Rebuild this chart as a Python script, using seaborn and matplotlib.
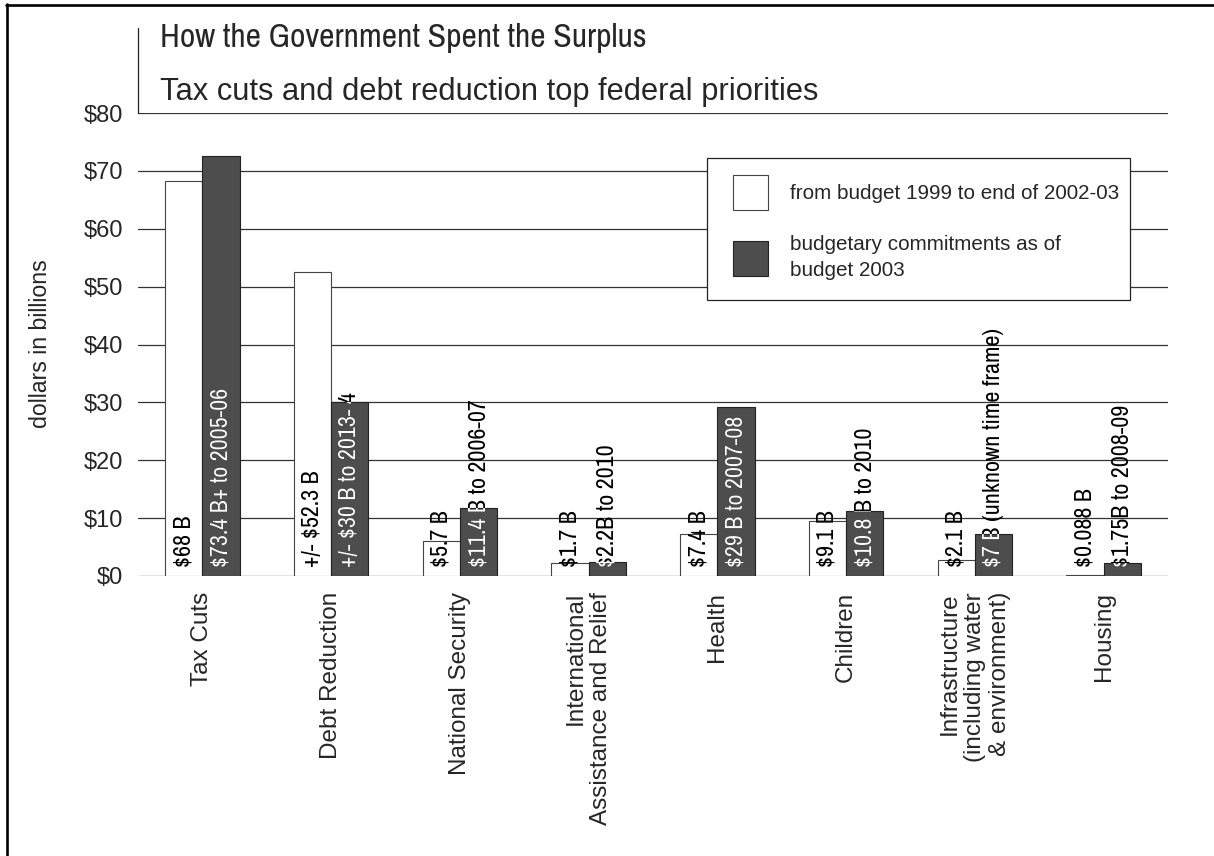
import os
import matplotlib
matplotlib.use("Agg")
import matplotlib.pyplot as plt
from matplotlib import font_manager
from matplotlib.font_manager import FontProperties
from matplotlib.lines import Line2D
from matplotlib.patches import Rectangle
import seaborn as sns
import pandas as pd

# ---------------- data ----------------
categories = ["Tax Cuts", "Debt Reduction", "National Security",
              "International\nAssistance and Relief", "Health", "Children",
              "Infrastructure\n(including water\n& environment)", "Housing"]
series_names = ["from budget 1999 to end of 2002-03",
                "budgetary commitments as of\nbudget 2003"]
spent_1999_2003 = [68.2, 52.5, 6.1, 2.2, 7.25, 9.5, 2.76, 0.088]
commit_2003 = [72.5, 30.0, 11.7, 2.5, 29.2, 11.2, 7.3, 2.2]
labels_1999_2003 = ["$68 B", "+/- $52.3 B", "$5.7 B", "$1.7 B",
                    "$7.4 B", "$9.1 B", "$2.1 B", "$0.088 B"]
labels_2003 = ["$73.4 B+ to 2005-06", "+/- $30 B to 2013- 4",
               "$11.4 B to 2006-07", "$2.2B to 2010",
               "$29 B to 2007-08", "$10.8 B to 2010",
               "$7 B (unknown time frame)", "$1.75B to 2008-09"]
yticks = [0, 10, 20, 30, 40, 50, 60, 70, 80]
ytick_labels = ["$0", "$10", "$20", "$30", "$40", "$50", "$60", "$70", "$80"]
title = "How the Government Spent the Surplus"
subtitle = "Tax cuts and debt reduction top federal priorities"
ylabel = "dollars in billions"

df = pd.DataFrame({
    "category": categories * 2,
    "series": [series_names[0]] * len(categories) + [series_names[1]] * len(categories),
    "value": spent_1999_2003 + commit_2003,
})

# ---------------- fonts ----------------
sns.set_style("white")
names = {f.name for f in font_manager.fontManager.ttflist}
REG = "Liberation Sans" if "Liberation Sans" in names else "DejaVu Sans"
narrow_path = None
for f in font_manager.fontManager.ttflist:
    key = (f.name + " " + os.path.basename(f.fname)).lower()
    if "narrow" in key and not any(w in key for w in ("bold", "italic", "oblique")):
        narrow_path = f.fname
        break
plt.rcParams["font.family"] = [REG, "DejaVu Sans"]


def nar(size_narrow, size_reg):
    if narrow_path:
        return FontProperties(fname=narrow_path, size=size_narrow)
    return FontProperties(family=REG, size=size_reg)


W, H = 1214, 856
fig = plt.figure(figsize=(W / 100, H / 100), dpi=100)
ax = fig.add_axes([138 / W, 1 - 576 / H, 1030 / W, 463 / H])

sns.barplot(data=df, x="category", y="value", hue="series",
            palette=["white", "#4d4d4d"], width=0.58, ax=ax,
            legend=False, saturation=1, err_kws={"linewidth": 0})

white_bars, dark_bars = ax.containers[0], ax.containers[1]
for b in white_bars:
    b.set_edgecolor("#444444"); b.set_linewidth(0.8); b.set_zorder(2)
for b in dark_bars:
    b.set_edgecolor("#222222"); b.set_linewidth(0.8); b.set_zorder(2)

ax.set_xlim(-0.5, 7.5)
ax.set_ylim(0, 80)
ax.set_yticks(yticks)
ax.set_yticklabels(ytick_labels, fontsize=17, family=REG)
ax.set_xticks(range(len(categories)))
ax.set_xticklabels(categories, rotation=90, ha="center", va="top",
                   multialignment="right", fontsize=17.5, family=REG)
ax.tick_params(axis="both", length=0)
ax.tick_params(axis="x", pad=11.5)
ax.tick_params(axis="y", pad=10.5)
ax.set_xlabel("")
ax.set_ylabel("")
for s in ax.spines.values():
    s.set_visible(False)
ax.yaxis.grid(True, color="#333333", linewidth=0.9)
ax.xaxis.grid(False)
ax.set_axisbelow(True)

# bar labels
lab_fp = nar(17.3, 15)
for b, lab in zip(white_bars, labels_1999_2003):
    x = b.get_x() + b.get_width() / 2
    ax.annotate(lab, (x, 0), xytext=(0, 9), textcoords="offset pixels",
                rotation=90, ha="center", va="bottom", color="black",
                fontproperties=lab_fp, zorder=3)
for b, lab in zip(dark_bars, labels_2003):
    x = b.get_x() + b.get_width() / 2
    ax.annotate(lab, (x, 0), xytext=(0, 9), textcoords="offset pixels",
                rotation=90, ha="center", va="bottom", color="black",
                fontproperties=lab_fp, zorder=3)
    t = ax.annotate(lab, (x, 0), xytext=(0, 9), textcoords="offset pixels",
                    rotation=90, ha="center", va="bottom", color="white",
                    fontproperties=lab_fp, zorder=4)
    t.set_clip_path(b)

# legend (frame drawn separately)
box = Rectangle((707 / W, 1 - 300 / H), 423 / W, 142 / H, transform=fig.transFigure,
                facecolor="white", edgecolor="#222222", linewidth=0.9, zorder=4,
                clip_on=False)
ax.add_patch(box)
leg = ax.legend(ax.containers, series_names, loc="upper left",
                bbox_to_anchor=(733 / W, 1 - 175 / H), bbox_transform=fig.transFigure,
                frameon=False, borderpad=0, borderaxespad=0,
                prop={"family": REG, "size": 14.9},
                handlelength=1.69, handleheight=2.225, handletextpad=1.06,
                labelspacing=1.2)
for t in leg.get_texts():
    t.set_linespacing(1.45)
leg.set_zorder(5)

# titles
fig.text(160 / W, 1 - 47 / H, title, fontproperties=nar(24.2, 22),
         ha="left", va="baseline")
fig.text(160 / W, 1 - 100 / H, subtitle, fontsize=22.2, family=REG,
         ha="left", va="baseline")
fig.text(41 / W, 1 - 344 / H, ylabel, rotation=90, fontsize=16.7, family=REG,
         ha="center", va="center")

# title box line and outer frame
fig.add_artist(Line2D([138 / W, 138 / W], [1 - 28 / H, 1 - 113 / H],
                      color="#222222", linewidth=0.9))
fig.add_artist(Line2D([6 / W, 1], [1 - 5 / H, 1 - 5 / H], color="black", linewidth=1.9))
fig.add_artist(Line2D([7 / W, 7 / W], [1 - 4 / H, 0], color="black", linewidth=1.9))

fig.savefig("out.png", dpi=100, facecolor="white")
